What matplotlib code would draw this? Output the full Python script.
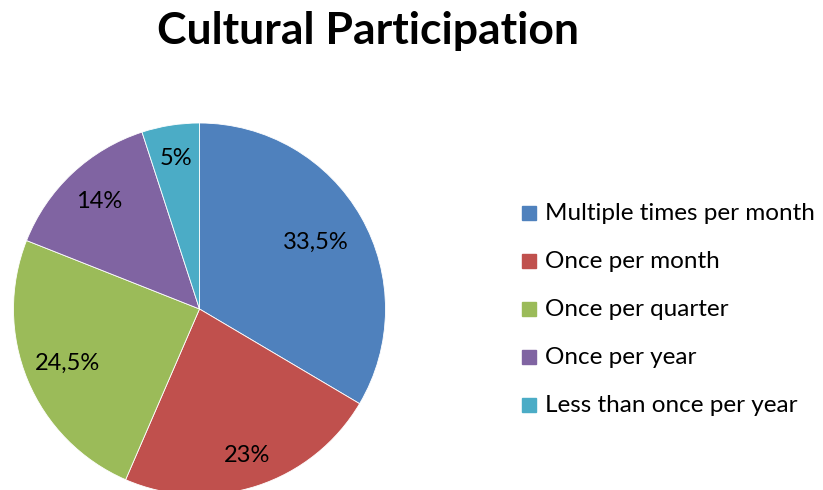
import numpy as np
import matplotlib
matplotlib.use('Agg')
import matplotlib.pyplot as plt
from matplotlib.patches import Rectangle

plt.rcParams['font.family'] = ['Lato', 'DejaVu Sans']

categories = ['Multiple times per month', 'Once per month', 'Once per quarter',
              'Once per year', 'Less than once per year']
shares = [33.5, 23, 24.5, 14, 5]
colors = ['#4F81BD', '#C0504D', '#9BBB59', '#8064A2', '#4BACC6']

W, H = 823, 490
fig = plt.figure(figsize=(W / 100, H / 100), dpi=100)

# pie axes placed in pixel terms, bottom runs slightly past the figure edge
cx, cy, r = 199.5, 309, 186
ax = fig.add_axes([(cx - r) / W, (H - cy - r) / H, 2 * r / W, 2 * r / H])
wedges, _ = ax.pie(shares, colors=colors, startangle=90, counterclock=False,
                   radius=1, wedgeprops=dict(edgecolor='white', linewidth=0.6))
ax.set_xlim(-1, 1)
ax.set_ylim(-1, 1)
ax.set_aspect('equal')
ax.axis('off')

# data labels, distance from centre per slice (best-fit style)
label_r = [0.72, 0.83, 0.77, 0.79, 0.82]
for w, v, d in zip(wedges, shares, label_r):
    ang = np.deg2rad((w.theta1 + w.theta2) / 2)
    txt = f'{v:g}%'.replace('.', ',')
    ax.text(d * np.cos(ang), d * np.sin(ang), txt, ha='center', va='center',
            fontsize=17, color='black')

fig.text(368 / W, 1 - 31 / H, 'Cultural Participation', ha='center', va='center',
         fontsize=32, fontweight='bold')

# legend drawn as squares plus text
rows_y = [213, 261, 309, 357, 405]
for lab, col, y in zip(categories, colors, rows_y):
    fig.patches.append(Rectangle((522 / W, 1 - (y + 7) / H), 14 / W, 14 / H,
                                 transform=fig.transFigure, color=col))
    fig.text(545 / W, 1 - y / H, lab, ha='left', va='center', fontsize=17.5)

fig.savefig('out.png', dpi=100)
